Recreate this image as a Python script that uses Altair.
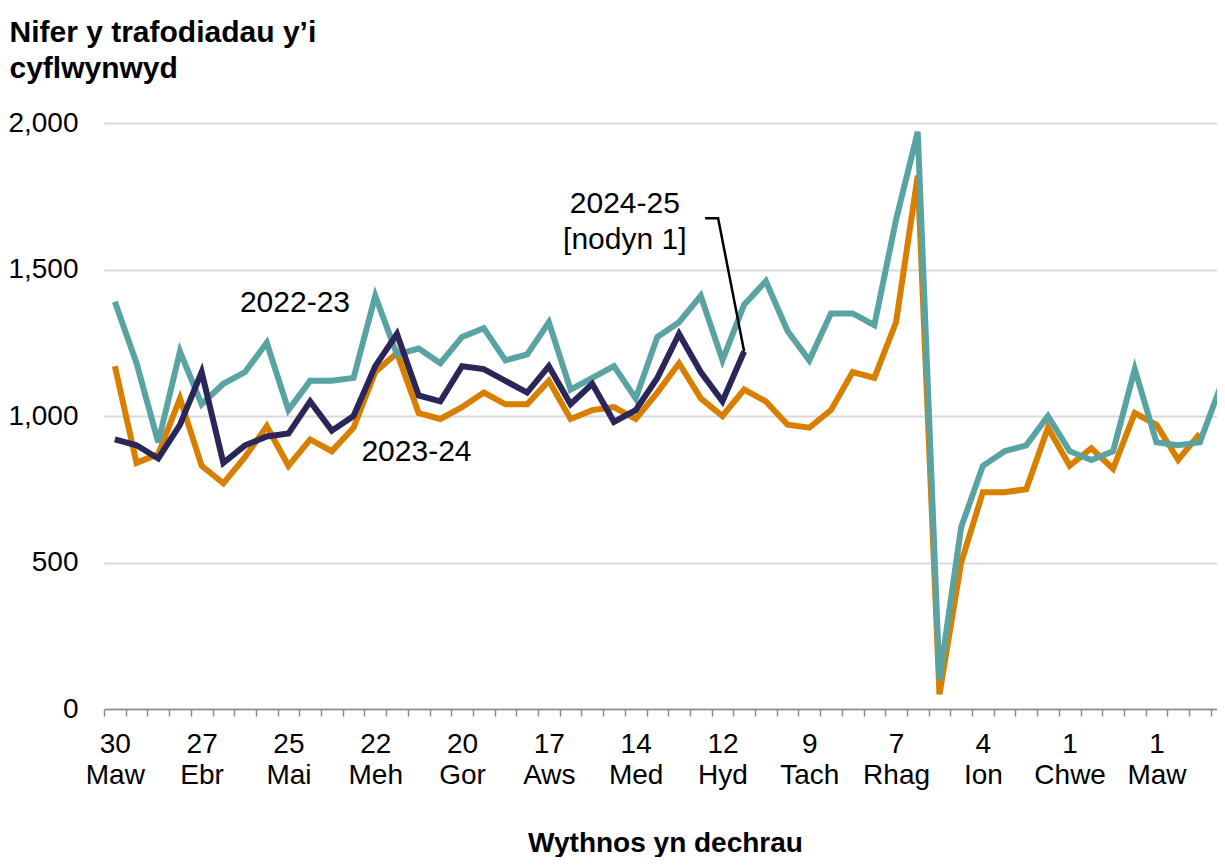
import altair as alt
import pandas as pd

# ---- data ----
values_2022_23 = [1390, 1180, 910, 1220, 1040, 1110, 1150, 1250, 1020, 1120,
                  1120, 1130, 1410, 1210, 1230, 1180, 1270, 1300, 1190, 1210,
                  1320, 1090, 1130, 1170, 1060, 1270, 1320, 1410, 1190, 1380,
                  1460, 1290, 1190, 1350, 1350, 1310, 1670, 1970, 100, 620,
                  830, 880, 900, 1000, 880, 850, 880, 1160, 910, 900,
                  910, 1110]
values_2023_24 = [1170, 840, 870, 1060, 830, 770, 860, 965, 830, 920,
                  880, 960, 1150, 1215, 1010, 990, 1030, 1080, 1040, 1040,
                  1120, 990, 1020, 1030, 990, 1080, 1180, 1060, 1000, 1090,
                  1050, 970, 960, 1020, 1150, 1130, 1320, 1820, 50, 500,
                  740, 740, 750, 960, 830, 890, 820, 1010, 970, 850,
                  940]
values_2024_25 = [920, 900, 855, 970, 1150, 840, 900, 930, 940, 1050,
                  950, 1000, 1170, 1280, 1070, 1050, 1170, 1160, 1120, 1080,
                  1170, 1040, 1110, 980, 1020, 1130, 1280, 1150, 1050, 1220]

tick_days = ["30", "27", "25", "22", "20", "17", "14", "12", "9", "7", "4", "1", "1"]
tick_months = ["Maw", "Ebr", "Mai", "Meh", "Gor", "Aws", "Med", "Hyd", "Tach",
               "Rhag", "Ion", "Chwe", "Maw"]
y_ticks = [0, 500, 1000, 1500, 2000]

ann_text = ["2022-23", "2023-24", "2024-25", "[nodyn 1]"]
ann_week = [8.3, 13.9, 23.5, 23.5]
ann_value = [1387, 878, 1725, 1599]
leader_week = [27.2, 27.8, 29]
leader_value = [1675, 1675, 1220]

# ---- styling ----
FONT = "Liberation Sans"
FS_AXIS = 28
FS_TITLE = 30
FS_ANN = 30
X_MAX = 50.79
C_TEAL = "#5AA3A3"
C_ORANGE = "#D97F00"
C_NAVY = "#2B2659"
AXIS_GREY = "#8a8a8a"

def frame(vals):
    return pd.DataFrame({"week": list(range(len(vals))), "value": vals})

parts = []
for i, (d, m) in enumerate(zip(tick_days, tick_months)):
    v = 4 * i - 0.5
    parts.append(f"datum.value == {v} ? ['{d}', '{m}']")
label_expr = " : ".join(parts) + " : ''"

x_axis = alt.Axis(
    values=[k - 0.5 for k in range(60) if k - 0.5 <= X_MAX],
    labelExpr=label_expr, labelOffset=10.85, labelAlign="center",
    labelBaseline="top", labelFontSize=FS_AXIS, labelLineHeight=31, labelPadding=14,
    labelOverlap=False, labelFlush=False, labelColor="black",
    tickSize=7, tickColor=AXIS_GREY, tickWidth=1.5,
    domainColor=AXIS_GREY, domainWidth=1.5, grid=False,
    title="Wythnos yn dechrau", titleFontSize=FS_AXIS, titleFontWeight="bold",
    titleColor="black", titleX=561, titleY=142, titleBaseline="alphabetic",
    titleAlign="center",
)
y_axis = alt.Axis(
    values=y_ticks, format=",d", labelFontSize=FS_AXIS, labelPadding=26,
    labelColor="black", ticks=False, tickSize=0, domain=False,
    grid=True, gridColor="#d9d9d9", gridWidth=2,
    title=["Nifer y trafodiadau y’i", "cyflwynwyd"], titleAngle=0,
    titleAlign="left", titleBaseline="top", titleX=-95, titleY=-106,
    titleFontSize=FS_TITLE, titleFontWeight="bold", titleLineHeight=36,
    titleColor="black",
)

x_enc = alt.X("week:Q", scale=alt.Scale(domain=[-0.5, X_MAX], nice=False, zero=False), axis=x_axis)
y_enc = alt.Y("value:Q", scale=alt.Scale(domain=[0, 2000], nice=False), axis=y_axis)

def line(vals, color):
    return alt.Chart(frame(vals)).mark_line(
        color=color, strokeWidth=6, clip=True
    ).encode(x=x_enc, y=y_enc)

ann_df = pd.DataFrame({"week": ann_week, "value": ann_value, "text": ann_text})
texts = alt.Chart(ann_df).mark_text(
    font=FONT, fontSize=FS_ANN, color="black", align="center", baseline="middle"
).encode(x=x_enc, y=y_enc, text="text:N")

leader_df = pd.DataFrame({"week": leader_week, "value": leader_value,
                          "order": list(range(len(leader_week)))})
leader = alt.Chart(leader_df).mark_line(color="black", strokeWidth=2.5).encode(
    x=x_enc, y=y_enc, order="order:Q")

chart = alt.layer(
    line(values_2023_24, C_ORANGE),
    line(values_2022_23, C_TEAL),
    line(values_2024_25, C_NAVY),
    texts,
    leader,
).properties(
    width=1113, height=586,
    autosize=alt.AutoSizeParams(type="none"),
    padding={"left": 96, "top": 115, "right": 0, "bottom": 148},
).configure(font=FONT).configure_view(stroke=None)

chart.save("out.html", embed_options={"renderer": "svg", "actions": False})
